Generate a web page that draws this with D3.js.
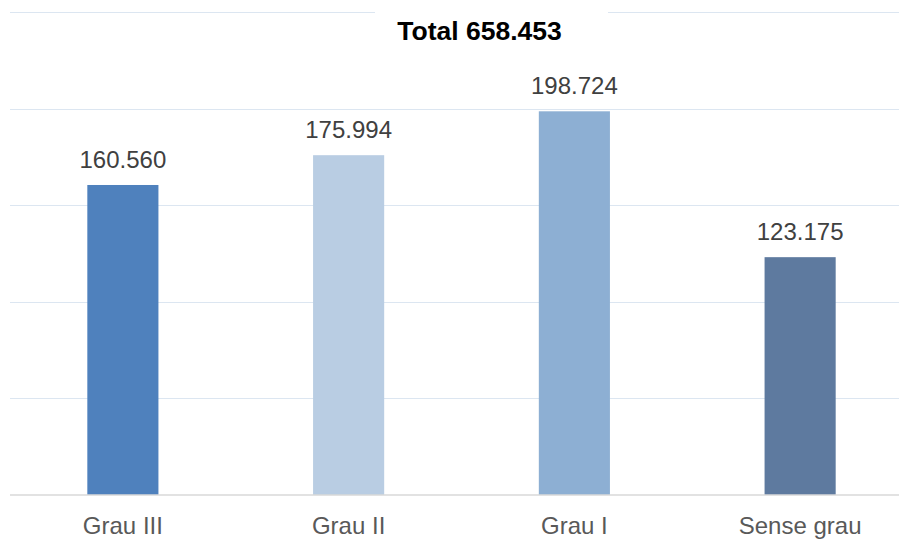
<!DOCTYPE html>
<html><head><meta charset="utf-8">
<script src="https://cdn.jsdelivr.net/npm/d3@7"></script>
<style>body{margin:0;background:#fff}svg{display:block}</style>
</head><body>
<svg id="c" width="899" height="540"></svg>
<script>
const categories = ["Grau III", "Grau II", "Grau I", "Sense grau"];
const values = [160560, 175994, 198724, 123175];
const colors = ["#4F81BD", "#B9CDE3", "#8DAFD3", "#5E7A9F"];
const yTicks = [0, 50000, 100000, 150000, 200000, 250000];
const title = "Total 658.453";

const svg = d3.select("#c");
const FONT = "'Liberation Sans', Arial, sans-serif";
const fmt = v => d3.format(",")(v).replace(/,/g, ".");
const x = d3.scaleBand().domain(categories).range([10, 913]).paddingInner(0.685).paddingOuter(0.3425);
const y = d3.scaleLinear().domain([0, 250000]).range([495, 12.3]);

// gridlines
svg.append("g").selectAll("line").data(yTicks.filter(d => d > 0)).join("line")
  .attr("x1", 10).attr("x2", 899)
  .attr("y1", d => Math.round(y(d)) + 0.5).attr("y2", d => Math.round(y(d)) + 0.5)
  .attr("stroke", "#DCE6F1").attr("stroke-width", 1);

// title background
svg.append("rect").attr("x", 375).attr("y", 0).attr("width", 233).attr("height", 50).attr("fill", "#fff");
svg.append("text").attr("x", 479.5).attr("y", 40).attr("text-anchor", "middle")
  .attr("font-family", FONT).attr("font-weight", "bold")
  .attr("font-size", 26.5).attr("fill", "#000").text(title);

// bars
svg.append("g").selectAll("rect").data(values).join("rect")
  .attr("x", (d, i) => x(categories[i])).attr("width", x.bandwidth())
  .attr("y", d => y(d)).attr("height", d => y(0) - y(d))
  .attr("fill", (d, i) => colors[i]);

// value labels
svg.append("g").selectAll("text").data(values).join("text")
  .attr("x", (d, i) => x(categories[i]) + x.bandwidth() / 2)
  .attr("y", d => y(d) - 17)
  .attr("text-anchor", "middle")
  .attr("font-family", FONT).attr("font-size", 24)
  .attr("fill", "#404040").text(d => fmt(d));

// baseline axis
const xAxis = d3.axisBottom(x).tickSize(0).tickPadding(0);
const gx = svg.append("g").attr("transform", `translate(0,${y(0)})`).call(xAxis);
gx.select(".domain").remove();
gx.append("line").attr("x1", 10).attr("x2", 899).attr("y1", 0).attr("y2", 0)
  .attr("stroke", "#D9D9D9").attr("stroke-width", 1.5);
gx.selectAll(".tick text").attr("dy", null).attr("y", 39)
  .attr("font-family", FONT).attr("font-size", 24)
  .attr("fill", "#595959");
</script>
</body></html>
